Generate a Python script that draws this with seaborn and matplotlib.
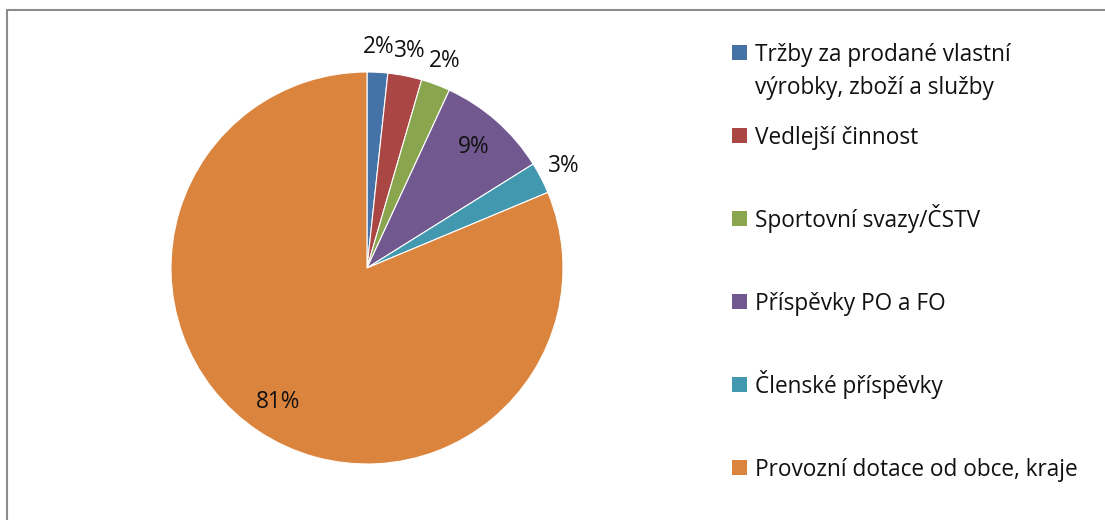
import numpy as np
import matplotlib
matplotlib.use("Agg")
import matplotlib.pyplot as plt
import seaborn as sns
from matplotlib.patches import Rectangle

sns.set_theme(style="white")
plt.rcParams['font.family'] = ['Open Sans', 'DejaVu Sans']

# data (share of income, %)
categories = [
    "Tržby za prodané vlastní\nvýrobky, zboží a služby",
    "Vedlejší činnost",
    "Sportovní svazy/ČSTV",
    "Příspěvky PO a FO",
    "Členské příspěvky",
    "Provozní dotace od obce, kraje",
]
shares = [1.7, 2.8, 2.4, 9.2, 2.6, 81.3]
colors = ["#4572A7", "#AA4643", "#89A54E", "#71588F", "#4198AF", "#DB843D"]

W, H = 1105, 520
FS = 16.3
fig = plt.figure(figsize=(W / 100, H / 100), dpi=100)

# chart-area border (cropped on the right and bottom)
fig.patches.append(Rectangle((7 / W, -0.1), 1.2, 1 - 10 / H + 0.1, transform=fig.transFigure,
                             fill=False, edgecolor="#8c8c8c", linewidth=1.5))

# pie centred at (367, 268) px with radius 196 px
cx, cy, r = 367, 268, 196
half = 200
ax = fig.add_axes([(cx - half) / W, (H - cy - half) / H, 2 * half / W, 2 * half / H])
lim = half / r

wedges, _ = ax.pie(shares, colors=colors, startangle=90, counterclock=False,
                   radius=1, frame=True,
                   wedgeprops=dict(edgecolor="white", linewidth=0.8))
ax.set_xlim(-lim, lim)
ax.set_ylim(-lim, lim)
ax.set_aspect("equal")
ax.axis("off")

# percentage labels: inside for big slices, just outside for small ones
for w, v in zip(wedges, shares):
    mid = np.deg2rad((w.theta1 + w.theta2) / 2)
    dist = 0.82 if v > 5 else 1.13
    ax.text(dist * np.cos(mid), dist * np.sin(mid), f"{v:.0f}%",
            ha="center", va="center", fontsize=FS, color="#111111")

# legend, drawn as in the original (first lines evenly spaced)
base0, step, line_h = 61, 83, 33
for i, (lab, col) in enumerate(zip(categories, colors)):
    b = base0 + i * step
    fig.patches.append(Rectangle((732 / W, 1 - (b - 1) / H), 15 / W, 15 / H,
                                 transform=fig.transFigure, facecolor=col, edgecolor="none"))
    for k, line in enumerate(lab.split("\n")):
        fig.text(755 / W, 1 - (b + k * line_h) / H, line, ha="left", va="baseline",
                 fontsize=FS, color="#111111")

fig.savefig("out.png", dpi=100)
